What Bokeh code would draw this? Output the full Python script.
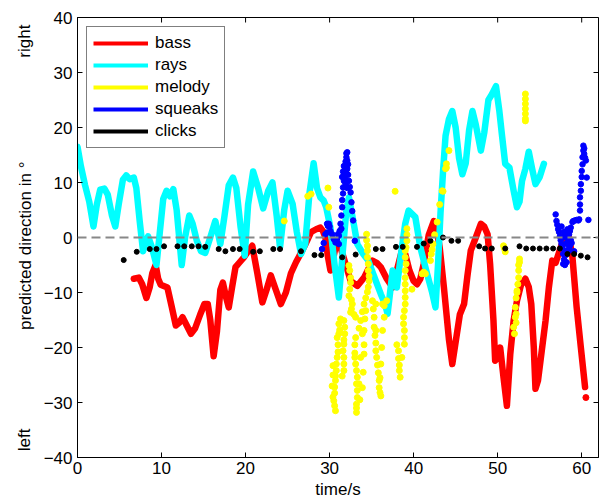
import math
from bokeh.plotting import figure
from bokeh.models import Legend, LegendItem, LinearAxis, Span, FixedTicker
from bokeh.embed import file_html
from bokeh.resources import INLINE

# ---------------- data ----------------
x_min, x_max = 0, 62
y_min, y_max = -40, 40
x_ticks = [0, 10, 20, 30, 40, 50, 60]
y_ticks = [-40, -30, -20, -10, 0, 10, 20, 30, 40]
y_tick_labels = {-40: "\u221240", -30: "\u221230", -20: "\u221220", -10: "\u221210",
                 0: "0", 10: "10", 20: "20", 30: "30", 40: "40"}
zero_level = 0
side_text_pos = [35.7, -1.5, -36.8]
side_texts = ["right", "predicted direction in \u00b0", "left"]
x_label = "time/s"

rays_x = [0.0, 0.4, 0.9, 1.4, 1.9, 2.3, 2.7, 3.2, 3.6, 4.1, 4.5, 4.9, 5.4, 5.8, 6.2,
          6.7, 7.0, 7.4, 7.8, 8.1, 8.4, 8.8, 9.4, 9.8, 10.2, 10.6, 11.0, 11.4, 11.8,
          12.4, 12.8, 13.3, 13.7, 14.2, 14.7, 15.2, 15.8, 16.4, 17.0, 17.5, 18.0, 18.5,
          18.9, 19.4, 19.9, 20.3, 20.9, 21.5, 22.1, 22.7, 23.2, 23.7, 24.1, 24.6, 25.0,
          25.6, 26.1, 26.6, 27.1, 27.6, 28.1, 28.5, 28.9, 29.3, 29.6, 30.1, 30.6, 31.1,
          31.6, 32.0, 32.3, 32.7, 33.3, 34.0, 34.6, 35.5, 36.1, 36.6, 36.9, 37.2, 37.5,
          38.0, 38.5, 39.0, 39.4, 40.2, 40.8, 41.6, 42.2, 42.6, 42.9, 43.2, 43.5, 43.8,
          44.2, 44.6, 45.0, 45.4, 45.8, 46.2, 46.6, 47.0, 47.4, 48.0, 48.4, 48.9, 49.3,
          49.8, 50.2, 50.5, 50.9, 51.4, 51.9, 52.3, 52.6, 52.9, 53.3, 53.7, 54.1, 54.5,
          55.0, 55.5]
rays_y = [16.5, 13.0, 9.5, 6.5, 2.0, 6.0, 8.7, 8.9, 7.8, 4.0, 2.0, 6.0, 10.5, 11.3, 10.6,
          10.9, 9.0, 3.0, -2.5, -1.0, 0.2, -1.5, -5.0, 1.0, 7.0, 8.5, 7.5, 8.8, 5.0,
          -5.0, 0.0, 4.0, 2.5, -0.6, -2.5, -2.8, 0.0, 3.0, -1.2, 4.0, 9.5, 10.9,
          9.0, 2.0, -3.3, 6.0, 12.0, 9.0, 5.3, 8.5, 10.0, 4.0, -1.8, 5.0, 8.5,
          6.1, 1.0, -3.0, -1.2, 8.0, 13.5, 9.0, 7.3, 6.7, 5.5, 1.8, -5.0, -10.9,
          -2.0, 5.0, 7.3, 4.0, -1.2, -3.0, -4.2, -7.9, -10.3, -12.1, -13.9, -10.0, -6.0,
          -9.1, -3.0, 2.5, 4.9, 3.7, -1.8, -6.6, -10.0, -12.7, -5.0, 4.5, 12.0, 18.5,
          21.5, 23.0, 20.0, 14.5, 11.5, 13.5, 19.5, 23.0, 20.5, 15.8, 19.0, 25.0, 26.0,
          27.5, 23.0, 18.8, 13.4, 12.7, 8.5, 5.5, 6.5, 10.3, 12.5, 15.6, 12.5, 9.7,
          11.0, 13.4]

bass_x = [6.7, 7.3, 7.7, 8.2, 8.6, 8.9, 9.3, 9.6, 9.9, 10.7, 11.2, 11.7, 12.1, 12.5, 13.0,
          13.5, 14.0, 14.6, 15.1, 15.5, 15.8, 16.2, 16.6, 17.0, 17.3, 17.7, 18.0, 18.4,
          18.8, 19.3, 19.8, 20.3, 20.8, 21.4, 22.0, 22.5, 23.0, 23.6, 24.2, 24.8, 25.4,
          26.0, 26.6, 27.2, 27.8, 28.4, 28.9, 29.2, 29.5, 29.8, 30.1, 30.4, 30.7, 31.3,
          31.9, 32.5, 33.3, 34.1, 35.1, 35.6, 36.1, 36.8, 37.5, 38.0, 38.6, 39.0, 39.5,
          40.0, 40.4, 40.8, 41.2, 41.8, 42.4, 42.8, 43.1, 43.6, 44.2, 44.6, 45.0, 45.5,
          46.0, 46.4, 46.8, 47.4, 48.0, 48.4, 48.8, 49.1, 49.5, 49.7, 50.0, 50.3, 50.7,
          51.1, 51.5, 51.9, 52.3, 52.8, 53.3, 53.7, 54.0, 54.3, 54.5, 54.8, 55.1, 55.7,
          56.1, 56.5, 56.9, 57.5, 58.1, 58.5, 58.9, 59.4, 59.9, 60.4]
bass_y = [-7.5, -7.3, -8.5, -11.0, -9.0, -6.5, -5.0, -7.5, -8.6, -9.1, -12.5, -16.0, -15.5,
          -14.5, -16.0, -17.5, -16.5, -14.0, -12.1, -12.1, -15.0, -21.6, -17.0, -9.5, -8.2,
          -11.0, -12.7, -9.0, -5.4, -4.5, -3.6, -2.5, -1.5, -6.5, -11.8, -9.5, -6.9, -9.5,
          -12.1, -10.0, -6.5, -4.5, -2.8, -1.0, 1.0, 1.5, 1.8, 1.2, 0.0, -3.5, -6.0, -4.0,
          -1.8, -1.8, -4.8, -7.9, -8.8, -7.3, -4.2, -4.6, -5.4, -7.5, -9.1, -6.0, -2.4,
          -3.0, -6.0, -7.9, -8.5, -7.5, -4.8, 0.5, 3.0, 1.0, -1.8, -9.0, -18.5, -23.0,
          -19.0, -14.0, -12.1, -7.0, -2.4, 0.0, 2.5, 2.0, 0.6, -4.8, -15.1, -22.4, -21.5,
          -20.0, -25.5, -30.6, -21.2, -15.1, -11.5, -8.5, -7.5, -9.0, -12.1, -20.0, -27.5,
          -26.0, -22.4, -15.1, -9.0, -4.2, -4.6, -1.8, 0.9, 0.0, -3.6, -12.7, -20.0,
          -27.2]
bass_end_x = [60.5]
bass_end_y = [-29.1]

melody_x = [24.6, 27.4, 27.8, 29.8, 29.9, 37.8,
            31.3, 31.1, 31.2, 31.1, 30.9, 31.0, 31.0, 30.9, 30.8, 30.8, 30.7, 30.7, 30.6,
            30.6, 30.5, 30.6, 30.7, 30.4, 30.4, 30.3, 30.4,
            31.7, 31.8, 31.8, 31.7, 31.7, 31.6, 31.7, 31.7, 31.7, 31.5,
            32.3, 32.4, 32.5, 32.5, 32.4, 32.3, 32.6, 32.7, 32.6, 32.5, 32.9, 33.1,
            34.1, 33.9, 33.7, 33.5, 33.1, 33.0, 33.0, 33.0, 33.1, 33.2, 33.3, 33.2, 33.3,
            33.3, 33.2, 33.2, 33.2, 33.9, 34.0, 34.1, 33.9, 34.1, 33.7, 33.5, 33.6,
            34.4, 34.4, 34.5, 34.5, 34.5, 34.6, 34.6, 34.7, 34.7, 34.6, 34.5, 34.3, 34.3,
            34.2, 34.1,
            35.1, 35.2, 35.3, 35.3, 35.4, 35.5, 35.5, 35.6, 35.7, 35.8, 35.9, 35.9, 36.0,
            36.1, 35.5, 35.5, 36.1, 36.3, 36.2, 36.3, 36.5, 36.5, 36.8, 36.0,
            38.2, 38.2, 38.3, 38.3, 38.4, 38.6, 38.0,
            39.2, 39.2, 39.2, 39.1, 39.0, 39.0, 39.1, 39.0, 39.0, 39.0, 39.0, 39.0, 39.0,
            38.9, 38.8, 38.8, 38.9, 38.9, 38.9, 39.8,
            41.0, 41.4, 41.2, 42.0, 42.1, 42.2, 42.3, 42.5, 42.8, 43.1, 43.4, 43.5, 43.8,
            43.9, 43.9, 44.2,
            50.7, 50.8, 50.9,
            51.9, 52.0, 52.1, 52.1, 52.2, 52.2, 52.3, 52.3, 52.4, 52.5, 52.5, 52.5, 52.6,
            52.6, 52.2,
            53.3, 53.3, 53.3, 53.3, 53.3, 53.3, 53.3]
melody_y = [3.0, 7.5, 7.9, 9.0, 5.5, 8.4,
            -14.8, -15.7, -16.8, -17.5, -18.2, -19.5, -20.8, -21.8, -23.0, -24.2, -25.2,
            -26.0, -27.2, -28.3, -29.7, -30.6, -31.5, -23.3, -25.0, -27.0, -29.0,
            -15.1, -16.3, -17.5, -18.6, -19.4, -20.6, -21.8, -23.0, -24.2, -25.2,
            -5.1, -6.0, -7.3, -8.2, -9.4, -10.6, -11.3, -12.1, -13.0, -13.6, -14.0, -14.5,
            -12.1, -13.5, -15.1, -16.5, -18.2, -19.5, -21.0, -21.8, -23.0, -24.2, -25.4,
            -26.6, -27.8, -29.1, -30.3, -31.0, -31.8, -27.3, -24.5, -21.2, -17.5, -19.5,
            -21.8, -26.6, -29.5,
            0.6, -0.5, -1.5, -2.4, -3.6, -4.8, -6.0, -7.0, -7.9, -9.0, -9.9, -11.0, -13.3,
            -14.8, -16.9,
            -11.5, -13.0, -14.5, -16.3, -17.8, -19.2, -20.6, -21.8, -23.2, -24.6, -26.0,
            -27.3, -28.2, -28.8, -12.1, -16.9, -23.0, -16.9, -20.0, -12.1, -12.4, -14.5,
            -11.5, -25.5,
            -20.6, -22.0, -23.2, -24.2, -25.4, -21.8, -19.5,
            1.6, 0.5, -0.6, -1.8, -2.4, -3.6, -4.8, -6.0, -7.3, -8.5, -9.7, -10.9, -12.1,
            -13.3, -14.5, -15.7, -16.9, -18.2, -19.4, -9.4,
            -6.6, -6.6, -6.3, -4.2, -3.0, -2.2, -1.2, 0.5, 2.8, 6.0, 8.5, 8.4, 12.5,
            13.4, 12.7, 15.8,
            -1.5, -2.0, -2.6,
            -16.3, -17.5, -14.5, -12.7, -13.9, -11.0, -10.0, -9.7, -8.5, -7.3, -6.0, -5.0,
            -3.9, -4.5, -15.5,
            26.1, 25.2, 24.3, 23.4, 22.5, 21.6, 21.2]

squeaks_x = [29.1, 29.3, 29.5, 29.7, 29.8, 30.0, 30.1, 30.3, 30.5, 30.7, 30.9, 31.1, 31.2,
             31.3, 31.4, 31.5, 31.5, 31.6, 31.6, 31.7, 31.7, 31.8, 31.9, 31.9, 32.0, 32.0,
             32.1, 32.1, 32.1, 32.2, 32.3, 32.4, 32.5, 32.6, 32.7, 32.8, 33.0, 31.8, 31.9,
             32.0, 31.6, 31.7, 32.2, 31.9, 32.1, 31.5, 31.4, 31.1, 29.9, 29.7, 31.0,
             56.9, 57.0, 57.1, 57.2, 57.3, 57.4, 57.5, 57.6, 57.7, 57.8, 57.9, 58.0, 58.1,
             58.1, 58.2, 58.3, 58.3, 58.4, 58.5, 58.6, 58.6, 58.7, 58.8, 58.9, 59.0, 59.1,
             59.2, 59.4, 59.6, 59.7, 59.8, 59.8, 59.8, 59.9, 59.9, 60.0, 60.0, 60.1, 60.1,
             60.2, 60.2, 60.3, 60.3, 60.4, 60.5, 60.6, 60.8, 57.8, 58.0, 58.2, 57.6, 57.9,
             58.0, 57.7, 58.5, 58.7]
squeaks_y = [-2.1, -1.0, 0.6, 2.5, 2.1, 2.0, 1.2, 0.6, -0.3, -0.9, -0.6, 0.3, 1.2,
             2.5, 4.0, 5.5, 6.8, 8.0, 9.1, 10.3, 11.5, 12.3, 12.9, 13.8, 14.6, 15.3,
             15.5, 14.0, 12.5, 11.4, 10.3, 9.2, 8.2, 6.4, 4.8, 3.1, -0.6, 10.8, 11.6,
             12.2, 12.0, 13.0, 13.3, 9.8, 9.0, 11.0, 1.6, -1.2, 2.5, 0.9, 0.6,
             4.2, 3.0, 2.3, 1.5, 1.0, 0.2, -0.5, -1.2, -2.0, -3.0, -4.0, -2.4, -1.2,
             -3.2, 0.0, -0.8, 1.5, -2.5, 0.6, -1.5, 1.2, 1.8, -1.0, 2.8, 3.0, -2.5,
             3.1, 3.2, 3.1, 3.3, 4.9, 6.0, 7.3, 8.5, 9.7, 11.0, 12.1, 13.3, 14.6,
             15.8, 16.7, 16.2, 15.2, 14.5, 14.0, 10.9, 3.2, -4.8, -5.0, -4.5, 2.0, 1.0,
             0.5, 0.0, -2.0, -0.5]

clicks_x = [5.5, 7.05, 8.6, 9.4, 10.3, 11.9, 12.7, 13.6, 14.4, 15.2, 16.8, 17.6, 18.5,
            19.3, 20.9, 21.7, 23.3, 24.1, 26.6, 28.2, 29.0, 31.5, 33.1, 35.5, 36.3, 37.9,
            38.7, 40.4, 41.2, 42.0, 43.5, 44.5, 45.3, 47.8, 48.5, 49.3, 50.9, 52.6, 53.4,
            54.2, 55.0, 55.8, 56.6, 57.4, 58.3, 59.1, 59.9, 60.7]
clicks_y = [-4.1, -2.6, -2.1, -2.1, -1.6, -1.6, -1.6, -1.6, -1.6, -1.7, -2.1, -2.5, -2.1,
            -2.1, -2.6, -2.5, -2.1, -2.1, -2.5, -3.2, -3.2, -3.6, -3.1, -2.1, -2.1, -1.7,
            -1.7, -1.7, -1.1, -0.6, 0.0, -0.6, -0.6, -1.6, -2.0, -2.0, -2.0, -1.6, -2.0,
            -2.0, -2.0, -2.0, -2.0, -2.0, -3.0, -3.0, -3.3, -3.6]

series_names = ["bass", "rays", "melody", "squeaks", "clicks"]
series_colors = ["#ff0000", "#00ffff", "#ffff00", "#0000ff", "#000000"]

FONT = "Liberation Sans"
FS = "17px"

# ---------------- figure ----------------
p = figure(width=599, height=502, x_range=(x_min, x_max), y_range=(y_min, y_max),
           output_backend="svg", toolbar_location=None,
           min_border_left=77, min_border_right=1, min_border_top=17, min_border_bottom=45)
p.background_fill_color = "white"
p.border_fill_color = "white"
p.outline_line_color = "black"
p.outline_line_width = 1
p.xgrid.visible = False
p.ygrid.visible = False

for ax in (p.xaxis[0], p.yaxis[0]):
    ax.major_tick_in = 5
    ax.major_tick_out = 0
    ax.minor_tick_in = 0
    ax.minor_tick_out = 0
    ax.axis_line_color = "black"
    ax.major_tick_line_color = "black"
    ax.major_label_text_font = FONT
    ax.major_label_text_font_size = FS
    ax.major_label_text_color = "black"
    ax.axis_label_text_font = FONT
    ax.axis_label_text_font_size = FS
    ax.axis_label_text_font_style = "normal"
    ax.axis_label_text_color = "black"

p.xaxis.ticker = FixedTicker(ticks=x_ticks)
p.yaxis.ticker = FixedTicker(ticks=y_ticks)
p.yaxis.major_label_overrides = y_tick_labels
p.xaxis.axis_label = x_label
p.xaxis.major_label_standoff = 4
p.xaxis.axis_label_standoff = 3
p.yaxis.major_label_standoff = 5

# outer left column: "right", y-label, "left" (same column as in the original)
side_axis = LinearAxis(ticker=FixedTicker(ticks=side_text_pos),
                       major_label_overrides=dict(zip(side_text_pos, side_texts)),
                       major_label_orientation="vertical",
                       axis_line_color=None, major_tick_line_color=None,
                       minor_tick_line_color=None, major_tick_in=0, major_tick_out=0,
                       minor_tick_in=0, minor_tick_out=0, major_label_standoff=6,
                       major_label_text_font=FONT, major_label_text_font_size=FS,
                       major_label_text_color="black")
p.add_layout(side_axis, "left")

p.add_layout(Span(location=zero_level, dimension="width", line_color="#888888",
                  line_width=2, line_dash="9 5"))

# data
p.line(bass_x, bass_y, line_color=series_colors[0], line_width=6.5,
       line_join="round", line_cap="round")
p.scatter(bass_end_x, bass_end_y, size=6, color=series_colors[0])
p.line(rays_x, rays_y, line_color=series_colors[1], line_width=6.5,
       line_join="round", line_cap="round")
p.scatter(melody_x, melody_y, size=6, color=series_colors[2])
p.scatter(squeaks_x, squeaks_y, size=5.5, color=series_colors[3])
p.scatter(clicks_x, clicks_y, size=5, color=series_colors[4])

# inward tick marks on the top and right edges (half of each dash is clipped by the frame)
p.scatter(x_ticks, [y_max] * len(x_ticks), marker="dash", size=10, angle=math.pi / 2,
          line_color="black", line_width=1)
p.scatter([x_max] * len(y_ticks), y_ticks, marker="dash", size=10,
          line_color="black", line_width=1)

# legend proxies (lines, as in the original legend)
nan = float("nan")
items = []
for name, col in zip(series_names, series_colors):
    r = p.line(x=[nan], y=[nan], line_color=col, line_width=4)
    items.append(LegendItem(label=name, renderers=[r]))
legend = Legend(items=items, location="top_left", margin=9, padding=6,
                spacing=2, glyph_width=55, glyph_height=18, label_standoff=7,
                label_text_font=FONT, label_text_font_size=FS,
                label_text_color="black", border_line_color="black",
                border_line_width=1, background_fill_alpha=1.0)
p.add_layout(legend, "center")

open("out.html", "w").write(file_html(p, INLINE))
